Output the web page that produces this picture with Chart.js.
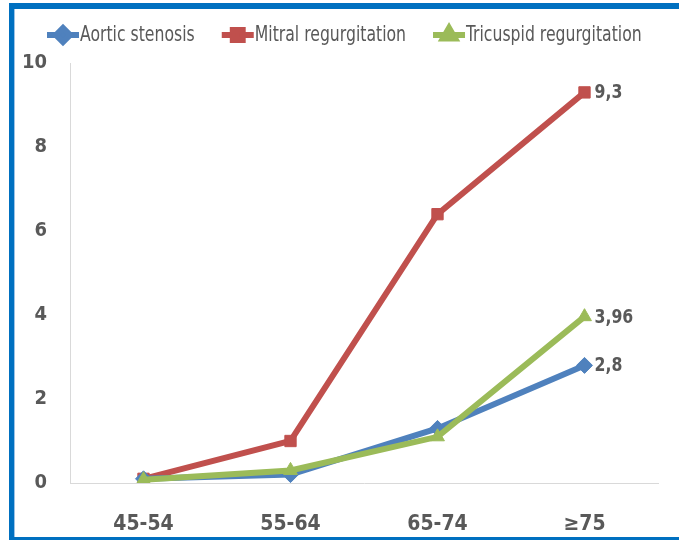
<!DOCTYPE html>
<html>
<head>
<meta charset="utf-8">
<script src="https://cdn.jsdelivr.net/npm/chart.js@4/dist/chart.umd.min.js"></script>
<style>
  html, body { margin: 0; padding: 0; background: #fff; }
  #wrap { position: relative; width: 679px; height: 540px; overflow: hidden; background: #fff; }
  #c { position: absolute; left: 0; top: 0; }
  .frame { position: absolute; background: #0070C0; }
  #fTop { left: 9px; top: 3px; width: 670px; height: 6px; }
  #fLeft { left: 9px; top: 3px; width: 5px; height: 537px; }
  #fLeftIn { position: absolute; left: 14px; top: 9px; width: 1px; height: 528px; background: #9DC3E6; }
  #fBottom { left: 9px; top: 537px; width: 670px; height: 3px; }
</style>
</head>
<body>
<div id="wrap">
  <canvas id="c" width="679" height="540"></canvas>
  <div class="frame" id="fTop"></div>
  <div class="frame" id="fLeft"></div>
  <div id="fLeftIn"></div>
  <div class="frame" id="fBottom"></div>
</div>
<script>
// Age groups on the x axis
const ageGroups = ['45-54', '55-64', '65-74', '\u226575'];

// Prevalence (%) per age group for each valve disease
const aorticStenosis = [0.1, 0.2, 1.3, 2.8];
const mitralRegurgitation = [0.1, 1.0, 6.4, 9.3];
const tricuspidRegurgitation = [0.08, 0.3, 1.1, 3.96];

const seriesNames = ['Aortic stenosis', 'Mitral regurgitation', 'Tricuspid regurgitation'];
const yTicks = [0, 2, 4, 6, 8, 10];

const NARROW = '"Liberation Sans Narrow", "DejaVu Sans Condensed", "Liberation Sans", sans-serif';
const GREY = '#595959';
// Horizontal squeeze for the canvas-drawn texts (narrow face look)
const SQUEEZE = 0.83;

const BLUE = '#4F81BD';
const RED = '#C0504D';
const GREEN = '#9BBB59';

function series(label, data, color, style, order) {
  return {
    label: label,
    data: data,
    borderColor: color,
    backgroundColor: color,
    borderWidth: 6,
    pointStyle: style,
    pointRadius: 8,
    pointBorderWidth: 1,
    pointBackgroundColor: color,
    pointBorderColor: color,
    tension: 0,
    order: order
  };
}

// Excel-style legend: short line with the marker in its middle, followed by the name
const lineLegend = {
  id: 'lineLegend',
  afterDraw(chart) {
    const ctx = chart.ctx;
    const y = 35;
    let x = 47;
    ctx.save();
    ctx.font = '21px ' + NARROW;
    ctx.textBaseline = 'middle';
    ctx.textAlign = 'left';
    chart.data.datasets.forEach((ds) => {
      const w = 32;
      ctx.strokeStyle = ds.borderColor;
      ctx.lineWidth = 6;
      ctx.beginPath();
      ctx.moveTo(x, y);
      ctx.lineTo(x + w, y);
      ctx.stroke();
      ctx.fillStyle = ds.borderColor;
      Chart.helpers.drawPoint(ctx, {
        pointStyle: ds.pointStyle, radius: 7, rotation: 0, borderWidth: 1
      }, x + w / 2, y);
      ctx.fillStyle = GREY;
      const tw = ctx.measureText(ds.label).width * SQUEEZE;
      ctx.fillText(ds.label, x + w + 1, y + 1, tw);
      x += w + 1 + tw + 27;
    });
    ctx.restore();
  }
};

// Value label beside the last point of each series
const endLabels = {
  id: 'endLabels',
  afterDatasetsDraw(chart) {
    const ctx = chart.ctx;
    ctx.save();
    ctx.font = 'bold 19px ' + NARROW;
    ctx.fillStyle = GREY;
    ctx.textBaseline = 'middle';
    ctx.textAlign = 'left';
    chart.data.datasets.forEach((ds, i) => {
      const meta = chart.getDatasetMeta(i);
      const last = meta.data.length - 1;
      const pt = meta.data[last];
      const txt = String(ds.data[last]).replace('.', ',');
      const tw = ctx.measureText(txt).width * 0.92;
      ctx.fillText(txt, pt.x + 10, pt.y + 1, tw);
    });
    ctx.restore();
  }
};

new Chart(document.getElementById('c'), {
  type: 'line',
  data: {
    labels: ageGroups,
    datasets: [
      series(seriesNames[0], aorticStenosis, BLUE, 'rectRot', 1),
      series(seriesNames[1], mitralRegurgitation, RED, 'rect', 2),
      series(seriesNames[2], tricuspidRegurgitation, GREEN, 'triangle', 0)
    ]
  },
  options: {
    responsive: false,
    animation: false,
    devicePixelRatio: 1,
    layout: { padding: { top: 63, right: 21, bottom: 0, left: 0 } },
    plugins: {
      legend: { display: false },
      tooltip: { enabled: false }
    },
    scales: {
      x: {
        type: 'category',
        offset: true,
        grid: { display: false },
        border: { display: true, color: '#D9D9D9', width: 1 },
        ticks: {
          color: GREY,
          padding: 21,
          font: { family: NARROW, size: 21, weight: 'bold' }
        },
        afterFit(s) { s.height = 57; }
      },
      y: {
        min: 0,
        max: 10,
        grid: { display: false, drawTicks: false },
        border: { display: true, color: '#D9D9D9', width: 1 },
        afterBuildTicks(s) { s.ticks = yTicks.map(v => ({ value: v })); },
        ticks: {
          color: GREY,
          padding: 23,
          font: { family: NARROW, size: 20, weight: 'bold' }
        },
        afterFit(s) { s.width = 70; }
      }
    }
  },
  plugins: [lineLegend, endLabels]
});
</script>
</body>
</html>
